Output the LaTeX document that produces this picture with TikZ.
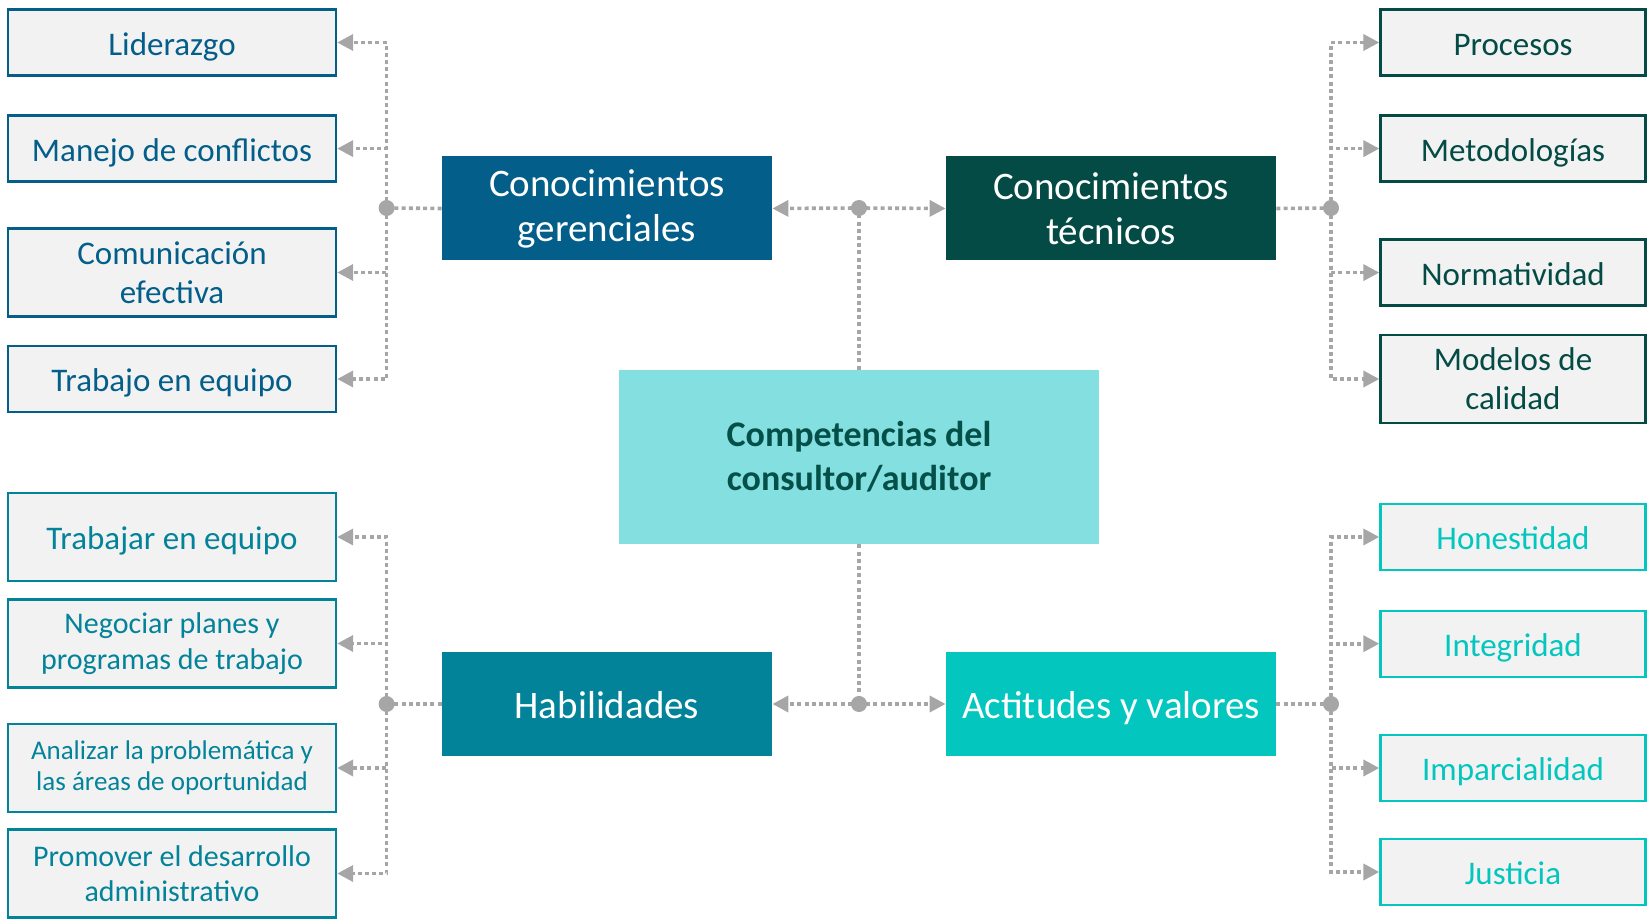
\documentclass[tikz,border=0pt]{standalone}
\usepackage{fontspec}
\setmainfont{Carlito}
\usetikzlibrary{arrows.meta}
\definecolor{gerblue}{RGB}{3,94,138}
\definecolor{tecgreen}{RGB}{3,75,68}
\definecolor{habteal}{RGB}{3,131,154}
\definecolor{actcyan}{RGB}{3,198,190}
\definecolor{compcyan}{RGB}{132,223,224}
\definecolor{comptext}{RGB}{4,80,72}
\definecolor{boxgray}{RGB}{242,242,242}
\definecolor{linegray}{RGB}{166,166,166}
\tikzset{
  one/.style={execute at begin node={\rule[-0.22em]{0pt}{1.2em}}},
  item/.style={draw, line width=1.2pt, fill=boxgray, minimum width=164pt,
    minimum height=33pt, align=center, inner sep=2pt,
    font=\fontsize{16.5}{19.5}\selectfont},
  ritem/.style={item, minimum width=132.5pt},
  tall/.style={minimum height=44pt},
  area/.style={minimum width=165pt, minimum height=52pt, align=center,
    text=white, font=\fontsize{19.5}{22.5}\selectfont},
  link/.style={draw=linegray, line width=1.8pt, dash pattern=on 2pt off 1.6pt},
  conn/.style={link, -{Triangle[length=8pt,width=8pt]}},
  hub/.style={fill=linegray}
}
\begin{document}
\begin{tikzpicture}[x=0.5pt, y=-0.5pt]
        \useasboundingbox (0,0) rectangle (1647,919);
        % centro
        \node[fill=compcyan, minimum width=240pt, minimum height=87pt, align=center,
          text=comptext, font=\fontsize{18}{22}\selectfont\bfseries] (comp) at (859,457)
          {Competencias del\\consultor/auditor};
        % areas
        \node[area, fill=gerblue] (ger) at (607,208.5) {Conocimientos\\gerenciales};
        \node[area, fill=tecgreen] (tec) at (1111,208.5) {Conocimientos\\técnicos};
        \node[area, one, fill=habteal] (hab) at (607,704) {Habilidades};
        \node[area, one, fill=actcyan] (act) at (1111,704) {Actitudes y valores};
        % gerenciales
        \node[item, one, draw=gerblue, text=gerblue] (lid) at (172,42.5) {Liderazgo};
        \node[item, one, draw=gerblue, text=gerblue] (man) at (172,148.6) {Manejo de conflictos};
        \node[item, tall, draw=gerblue, text=gerblue] (com) at (172,272.5) {Comunicación\\efectiva};
        \node[item, one, draw=gerblue, text=gerblue] (tra) at (172,379) {Trabajo en equipo};
        % tecnicos
        \node[ritem, one, draw=tecgreen, text=tecgreen] (pro) at (1513,42.5) {Procesos};
        \node[ritem, one, draw=tecgreen, text=tecgreen] (met) at (1513,148.6) {Metodologías};
        \node[ritem, one, draw=tecgreen, text=tecgreen] (nor) at (1513,272.6) {Normatividad};
        \node[ritem, tall, draw=tecgreen, text=tecgreen] (mod) at (1513,379) {Modelos de\\calidad};
        % habilidades
        \node[item, one, tall, draw=habteal, text=habteal] (tje) at (172,537) {Trabajar en equipo};
        \node[item, tall, draw=habteal, text=habteal,
          font=\fontsize{15}{17.8}\selectfont] (neg) at (172,643.5) {Negociar planes y\\programas de trabajo};
        \node[item, tall, draw=habteal, text=habteal,
          font=\fontsize{13.5}{15.7}\selectfont] (ana) at (172,768) {Analizar la problemática y\\las áreas de oportunidad};
        \node[item, tall, draw=habteal, text=habteal,
          font=\fontsize{15}{17.3}\selectfont] (prm) at (172,873.5) {Promover el desarrollo\\administrativo};
        % actitudes
        \node[ritem, one, draw=actcyan, text=actcyan] (hon) at (1513,537) {Honestidad};
        \node[ritem, one, draw=actcyan, text=actcyan] (int) at (1513,643.7) {Integridad};
        \node[ritem, one, draw=actcyan, text=actcyan] (imp) at (1513,768) {Imparcialidad};
        \node[ritem, one, draw=actcyan, text=actcyan] (jus) at (1513,872) {Justicia};
        % uniones
        \coordinate (jtop) at (859,208);
        \coordinate (jbot) at (859,704);
        \coordinate (jger) at (386.6,208);
        \coordinate (jtec) at (1331,208);
        \coordinate (jhab) at (386.6,704);
        \coordinate (jact) at (1331,704);
        \draw[link] (comp.north) -- (jtop);
        \draw[link] (comp.south) -- (jbot);
        \draw[conn] (jtop) -- (ger.east);
        \draw[conn] (jtop) -- (tec.west);
        \draw[conn] (jbot) -- (hab.east);
        \draw[conn] (jbot) -- (act.west);
        \draw[link] (ger.west) -- (jger);
        \draw[link] (tec.east) -- (jtec);
        \draw[link] (hab.west) -- (jhab);
        \draw[link] (act.east) -- (jact);
        \foreach \n in {lid,man,com,tra} \draw[conn] (jger) |- (\n.east);
        \foreach \n in {pro,met,nor,mod} \draw[conn] (jtec) |- (\n.west);
        \foreach \n in {tje,neg,ana,prm} \draw[conn] (jhab) |- (\n.east);
        \foreach \n in {hon,int,imp,jus} \draw[conn] (jact) |- (\n.west);
        \foreach \j in {jtop,jbot,jger,jtec,jhab,jact} \fill[hub] (\j) circle (4pt);
      \end{tikzpicture}
\end{document}
